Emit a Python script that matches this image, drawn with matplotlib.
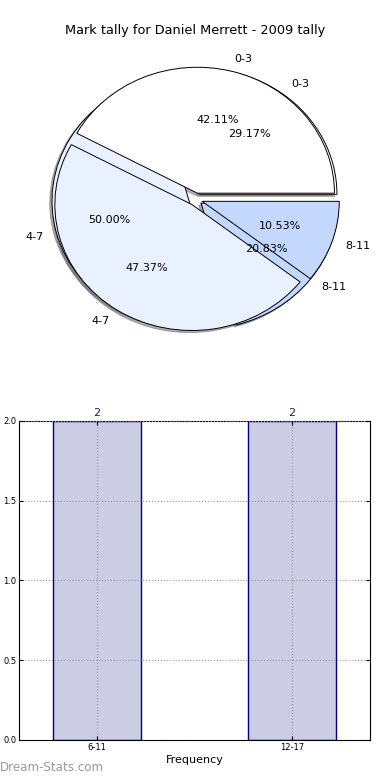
import matplotlib.pyplot as plt
import numpy as np

# data
pie_labels = ['0-3', '4-7', '8-11']
pie_a = [29.17, 50.00, 20.83]   # back pie
pie_b = [42.11, 47.37, 10.53]   # front pie
pie_colors = ['#ffffff', '#eaf1fe', '#c4d8fe']

bar_labels = ['6-11', '12-17']
bar_values = [2, 2]

fig = plt.figure(figsize=(3.9, 7.8), dpi=100)

# pie chart
ax1 = fig.add_axes([0.036, 0.533, 0.928, 0.423])
for vals in (pie_a, pie_b):
    wedges, texts, autotexts = ax1.pie(vals, labels=pie_labels, colors=pie_colors,
                                       explode=[0.05] * 3,
                                       shadow={'ox': -0.012, 'oy': -0.012, 'shade': 0.6},
                                       autopct='%1.2f%%', pctdistance=0.6,
                                       labeldistance=1.1, startangle=0,
                                       wedgeprops={'edgecolor': 'black', 'linewidth': 0.7},
                                       textprops={'fontsize': 8})
ax1.set_aspect('auto')
ax1.set_xlim(-1.325, 1.315)
ax1.set_ylim(-1.31, 1.31)
ax1.axis('off')
fig.text(0.5, 0.961, 'Mark tally for Daniel Merrett - 2009 tally', ha='center', va='center', fontsize=9.3)

# bar chart
ax2 = fig.add_axes([0.0487, 0.0513, 0.9, 0.409])
x = np.arange(len(bar_labels))
bars = ax2.bar(x, bar_values, width=0.45, color='#ccccE4', edgecolor='#00007f', linewidth=1.0, zorder=2)
for xi, v in zip(x, bar_values):
    ax2.text(xi, v + 0.02, str(v), ha='center', va='bottom', fontsize=8, color='#1a1a6e')
ax2.set_xlim(-0.4, 1.4)
ax2.set_ylim(0, 2.0)
ax2.set_xticks(x)
ax2.set_xticklabels(bar_labels, fontsize=6)
ax2.set_yticks([0, 0.5, 1.0, 1.5, 2.0])
ax2.set_yticklabels(['0.0', '0.5', '1.0', '1.5', '2.0'], fontsize=6)
ax2.tick_params(direction='in', top=True, right=True, length=3, pad=2)
ax2.grid(True, linestyle=':', color='#999999', linewidth=0.8, zorder=3)
ax2.set_axisbelow(False)
ax2.set_xlabel('Frequency', fontsize=8, labelpad=2)

fig.text(0.0, 0.008, 'Dream-Stats.com', fontsize=8.6, color='#999999', ha='left', va='bottom')

fig.savefig('out.png', dpi=100)
